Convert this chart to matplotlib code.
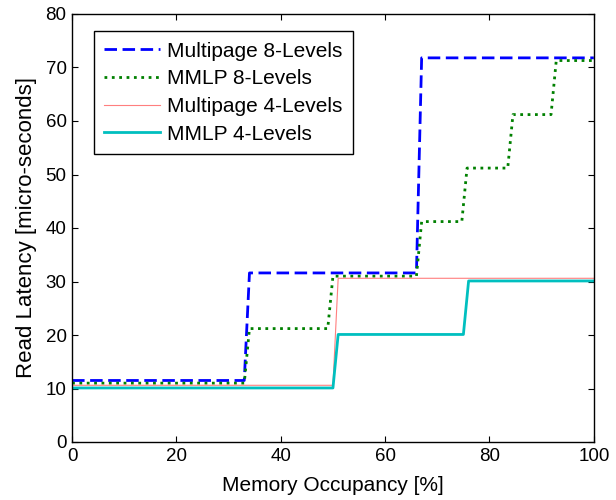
import matplotlib
matplotlib.use('Agg')
import matplotlib.pyplot as plt

plt.rcParams['font.family'] = ['Liberation Sans', 'DejaVu Sans']

# Memory occupancy breakpoints [%] and read latency [micro-seconds]
mp8_x = [0, 33, 34, 66, 67, 100]
mp8_y = [11.5, 11.5, 31.6, 31.6, 71.8, 71.8]

mmlp8_x = [0, 33, 34, 49, 50, 66, 67, 74.7, 75.7, 83.5, 84.5, 91.8, 92.8, 100]
mmlp8_y = [11, 11, 21.2, 21.2, 31, 31, 41.2, 41.2, 51.2, 51.2, 61.2, 61.2, 71.3, 71.3]

mp4_x = [0, 50, 51, 100]
mp4_y = [10.6, 10.6, 30.6, 30.6]

mmlp4_x = [0, 50, 51, 75, 76, 100]
mmlp4_y = [10.1, 10.1, 20.1, 20.1, 30.1, 30.1]

fig = plt.figure(figsize=(6.16, 5.0), dpi=100)
ax = fig.add_axes([0.117, 0.116, 0.847, 0.856])

ax.plot(mp8_x, mp8_y, color='#0000ff', linestyle='--', linewidth=2.0, dashes=(4.5, 2),
        label='Multipage 8-Levels')
ax.plot(mmlp8_x, mmlp8_y, color='#008000', linestyle=':', linewidth=2.0,
        label='MMLP 8-Levels')
ax.plot(mp4_x, mp4_y, color='#ff7f7f', linewidth=0.8, label='Multipage 4-Levels')
ax.plot(mmlp4_x, mmlp4_y, color='#00bfbf', linewidth=2.0, label='MMLP 4-Levels')

ax.set_xlim(0, 100)
ax.set_ylim(0, 80)
ax.set_xticks(range(0, 101, 20))
ax.set_yticks(range(0, 81, 10))
ax.tick_params(direction='in', top=True, right=True, labelsize=13.5, length=4, pad=4)
for s in ax.spines.values():
    s.set_linewidth(1.0)

ax.set_xlabel('Memory Occupancy [%]', fontsize=15, labelpad=8)
ax.set_ylabel('Read Latency [micro-seconds]', fontsize=16, labelpad=6)

leg = ax.legend(loc='upper left', bbox_to_anchor=(0.042, 0.96), fontsize=15,
                handlelength=2.65, handletextpad=0.35, borderpad=0.5,
                borderaxespad=0, labelspacing=0.42, fancybox=False,
                framealpha=1, edgecolor='black')
leg.get_frame().set_linewidth(1.0)

fig.savefig('out.png', dpi=100)
